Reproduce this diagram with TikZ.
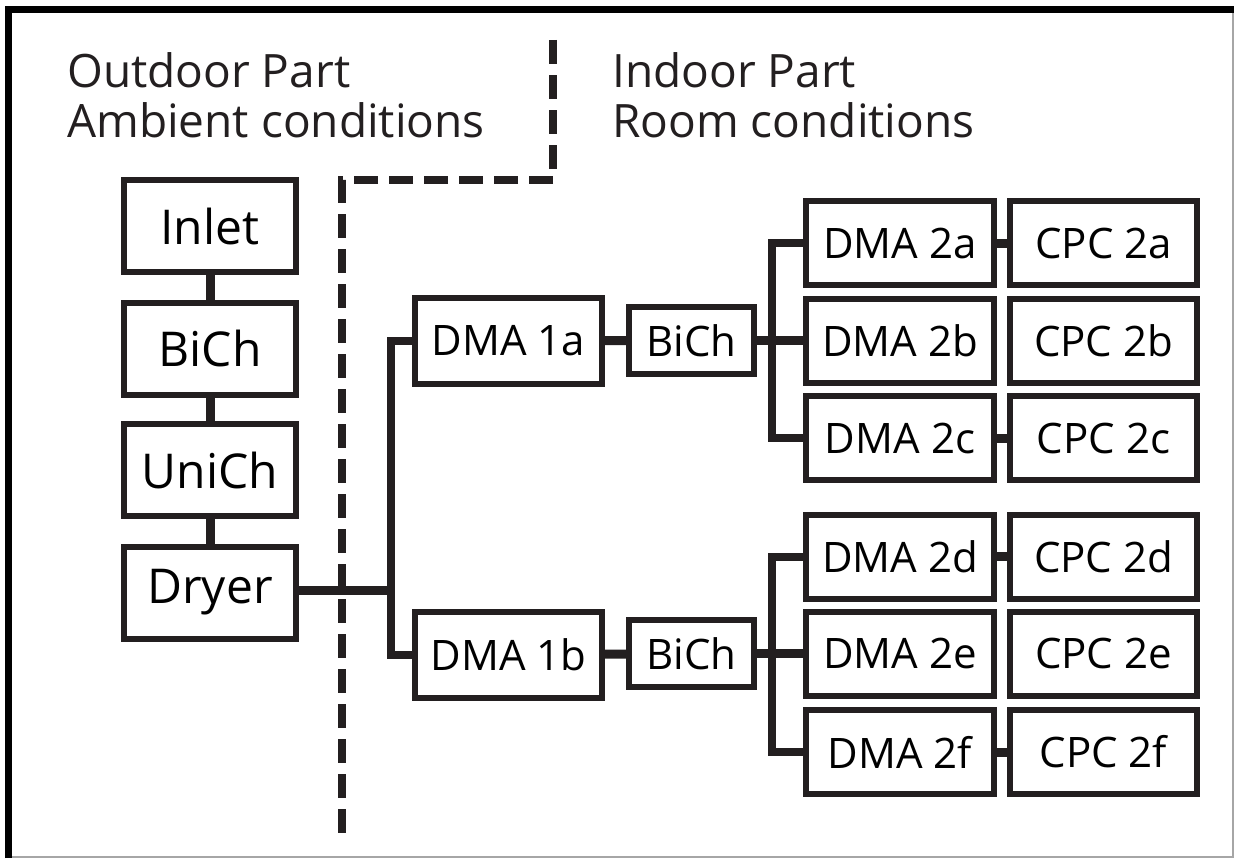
\documentclass[tikz,border=0pt]{standalone}
\usepackage{fontspec}
\setmainfont{Open Sans}
\definecolor{ink}{RGB}{35,31,32}
\begin{document}
\begin{tikzpicture}[x=1pt,y=-1pt,
  box/.style={draw=ink, line width=6pt, inner sep=0pt, text=black, font=\fontsize{42}{46}\selectfont},
  lbox/.style={box, minimum width=172pt, minimum height=92pt, font=\fontsize{48}{52}\selectfont},
  dmaone/.style={box, minimum width=187pt, minimum height=86pt},
  midbox/.style={box, minimum width=125pt, minimum height=67pt},
  dmatwo/.style={box, minimum width=188pt, minimum height=84pt},
  cpcbox/.style={box, minimum width=187pt, minimum height=84pt},
  conn/.style={draw=ink, line width=9pt},
  bus/.style={draw=ink, line width=8pt},
  border/.style={draw=ink, line width=8pt, dash pattern=on 24pt off 11pt},
  head/.style={anchor=base west, inner sep=0pt, text=ink, font=\fontsize{46}{50}\selectfont}]
\useasboundingbox (0,0) rectangle (1236,859);
\fill[white] (0,0) rectangle (1236,859);
% frame
\draw[gray!70, line width=2pt] (1233,9) -- (1233,857) -- (8,857);
\draw[black, line width=7pt] (8,858) -- (8,9.5) -- (1234,9.5);
% headings
\node[head] (h1) at (67,87) {Outdoor Part};
\node[head] (h2) at (67,137) {Ambient conditions};
\node[head] (h3) at (612,87) {Indoor Part};
\node[head] (h4) at (612,137) {Room conditions};
% boundary
\coordinate (b0) at (553,40);
\coordinate (b1) at (553,180);
\coordinate (b2) at (342,180);
\coordinate (b3) at (342,833);
\draw[border] (b0) -- (b1) -- (b2) -- (b3);
% left column
\node[lbox] (inlet) at (210,226) {Inlet};
\node[lbox] (bich0) at (210,348.5) {BiCh};
\node[lbox] (unich) at (210,470) {UniCh};
\node[lbox] (dryer) at (210,592.5) {Dryer};
\draw[conn] (inlet) -- (bich0);
\draw[conn] (bich0) -- (unich);
\draw[conn] (unich) -- (dryer);
% first level
\node[dmaone] (d1a) at (508.5,341) {DMA 1a};
\node[dmaone] (d1b) at (508.5,655) {DMA 1b};
\node[midbox] (bich1) at (691.5,340.5) {BiCh};
\node[midbox] (bich2) at (691.5,653.5) {BiCh};
\coordinate (j1) at (391,590);
\draw[conn] (dryer.east |- j1) -- (j1);
\draw[bus] (d1a.west) -| (j1) |- (d1b.west);
\draw[conn] (d1a) -- (bich1);
\draw[conn] (d1b) -- (bich2);
% second level
\foreach \n/\y in {2a/243,2b/340.5,2c/438,2d/556.5,2e/653.5,2f/752}{
  \node[dmatwo] (d\n) at (900,\y) {DMA \n};
  \node[cpcbox] (c\n) at (1103.5,\y) {CPC \n};
}
\coordinate (j2) at (772,340.5);
\coordinate (j3) at (772,653.5);
\draw[conn] (bich1) -- (j2);
\draw[conn] (bich2) -- (j3);
\draw[bus] (d2a.west) -| (j2) |- (d2c.west);
\draw[bus] (d2d.west) -| (j3) |- (d2f.west);
\draw[conn] (j2) -- (d2b.west);
\draw[conn] (j3) -- (d2e.west);
\draw[conn] (d2a) -- (c2a);
\draw[conn] (d2c) -- (c2c);
\draw[conn] (d2d) -- (c2d);
\draw[conn] (d2f) -- (c2f);
\end{tikzpicture}
\end{document}
